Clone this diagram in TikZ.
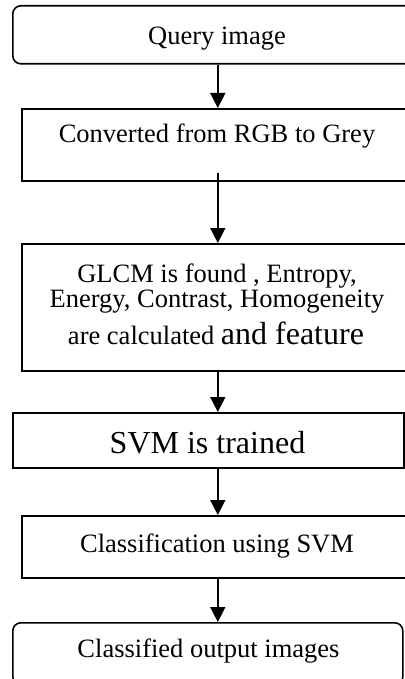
\documentclass[tikz,border=0pt]{standalone}
\usepackage{fontspec}
\setmainfont{Liberation Serif}
\usetikzlibrary{arrows.meta}
\begin{document}
\begin{tikzpicture}[x=1pt,y=-1pt,
  box/.style={draw, line width=1.6pt, inner sep=0pt, anchor=north west},
  rbox/.style={box, rounded corners=8pt},
  txt/.style={anchor=base, inner sep=0pt, font=\fontsize{26.5}{30}\selectfont},
  big/.style={anchor=base, inner sep=0pt, font=\fontsize{32}{36}\selectfont},
  arr/.style={line width=1.6pt, -{Triangle[width=15pt,length=15pt]}}]
\useasboundingbox (0,0) rectangle (404,679);
% boxes
\node[rbox, minimum width=410pt, minimum height=58pt] (b1) at (12,5) {};
\node[box, minimum width=392pt, minimum height=72pt] (b2) at (21,108) {};
\node[box, minimum width=392pt, minimum height=127pt] (b3) at (21,243) {};
\node[box, minimum width=391pt, minimum height=55pt] (b4) at (12,412) {};
\node[box, minimum width=392pt, minimum height=62pt] (b5) at (21,515) {};
\node[rbox, minimum width=390pt, minimum height=62pt] (b6) at (12,622) {};
% texts
\node[txt] (t1) at (217,45) {Query image};
\node[txt] (t2) at (217,143) {Converted from RGB to Grey};
\node[txt] (t3a) at (217,282) {GLCM is found , Entropy,};
\node[txt] (t3b) at (217,307) {Energy, Contrast, Homogeneity};
\node[anchor=base, inner sep=0pt] (t3c) at (216,344) {\fontsize{26.5}{30}\selectfont are calculated \fontsize{32}{36}\selectfont and feature};
\node[big] (t4) at (207.5,453) {SVM is trained};
\node[txt] (t5) at (217,552) {Classification using SVM};
\node[txt] (t6) at (208.5,657) {Classified output images};
% arrows
\draw[arr] (b1.south -| b2.north) -- (b2.north);
\draw[arr] ([yshift=9pt]b2.south) -- (b3.north);
\draw[arr] (b3.south) -- (b3.south |- b4.north);
\draw[arr] (b5.north |- b4.south) -- (b5.north);
\draw[arr] (b5.south) -- (b5.south |- b6.north);
\end{tikzpicture}
\end{document}
